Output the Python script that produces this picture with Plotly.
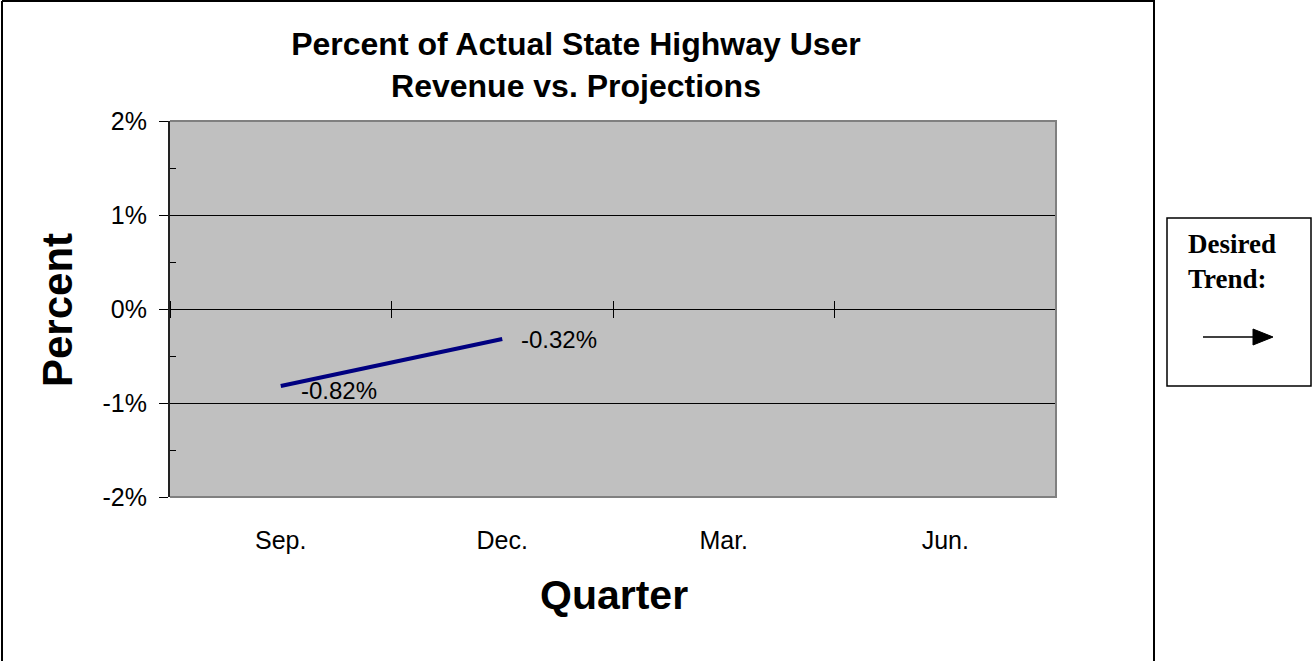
import plotly.graph_objects as go

# ---- data ----
quarters = ["Sep.", "Dec.", "Mar.", "Jun."]
actual_vs_projection_pct = [-0.82, -0.32, None, None]
y_tickvals = [-2, -1, 0, 1, 2]
y_ticktext = ["-2%", "-1%", "0%", "1%", "2%"]
title_text = "Percent of Actual State Highway User<br>Revenue vs. Projections"
x_title = "Quarter"
y_title = "Percent"
trend_text = "Desired<br>Trend:"

# ---- layout geometry (pixels) ----
W, H = 1312, 661
L, R, T, B = 170, 256, 121, 164
PW, PH = W - L - R, H - T - B


def px(x):
    return (x - L) / PW


def py(y):
    return (H - B - y) / PH


SANS = "Liberation Sans, Arial, sans-serif"
SERIF = "Liberation Serif, Times New Roman, serif"

fig = go.Figure()

fig.add_trace(go.Scatter(
    x=quarters, y=actual_vs_projection_pct, mode="lines",
    line=dict(color="#000080", width=4), showlegend=False, hoverinfo="skip",
))
# helper traces so that the overlay axes are drawn
fig.add_trace(go.Scatter(x=quarters, y=[None] * len(quarters), xaxis="x2", yaxis="y",
                         showlegend=False, hoverinfo="skip"))
fig.add_trace(go.Scatter(x=quarters, y=[None] * len(quarters), xaxis="x3", yaxis="y",
                         showlegend=False, hoverinfo="skip"))
fig.add_trace(go.Scatter(x=quarters, y=[None] * len(quarters), xaxis="x", yaxis="y2",
                         showlegend=False, hoverinfo="skip"))

# data labels
label_offsets = [(18, -4), (17, 0)]
for i, (q, v) in enumerate(zip(quarters, actual_vs_projection_pct)):
    if v is None:
        continue
    dx, dy = label_offsets[i]
    fig.add_annotation(x=q, y=v, xref="x", yref="y", text=f"{v:.2f}%",
                       showarrow=False, xanchor="left", yanchor="middle",
                       xshift=dx, yshift=dy,
                       font=dict(family=SANS, size=24, color="black"))

cat_axis = dict(type="category", categoryorder="array", categoryarray=quarters,
                range=[-0.5, len(quarters) - 0.5])

fig.update_layout(
    width=W, height=H,
    margin=dict(l=L, r=R, t=T, b=B, pad=0),
    paper_bgcolor="white", plot_bgcolor="#C0C0C0",
    showlegend=False,
    title=dict(text=title_text, x=576 / W, xanchor="center", xref="container",
               y=1 - 55 / H, yanchor="middle",
               font=dict(family=SANS, size=32, color="black", weight="bold")),
    xaxis=dict(**cat_axis, showgrid=False, zeroline=False, showline=False, ticks="",
               ticklabelstandoff=26,
               tickfont=dict(family=SANS, size=25, color="black")),
    xaxis2=dict(**cat_axis, overlaying="x", anchor="free", position=0.5, side="bottom",
                showgrid=False, zeroline=False, showline=False, showticklabels=False,
                ticks="outside", ticklen=8, tickcolor="black", tickwidth=1,
                tickson="boundaries"),
    xaxis3=dict(**cat_axis, overlaying="x", anchor="free", position=0.5, side="top",
                showgrid=False, zeroline=False, showline=False, showticklabels=False,
                ticks="outside", ticklen=8, tickcolor="black", tickwidth=1,
                tickson="boundaries"),
    yaxis=dict(range=[-2, 2], tickvals=y_tickvals, ticktext=y_ticktext,
               ticks="outside", ticklen=9, tickcolor="black", tickwidth=1,
               minor=dict(ticks="inside", ticklen=6, dtick=0.5, tickcolor="black",
                          tickwidth=1, showgrid=False),
               showgrid=True, gridcolor="black", gridwidth=1,
               zeroline=True, zerolinecolor="black", zerolinewidth=1,
               showline=True, linecolor="#222222", linewidth=2,
               ticklabelstandoff=7,
               tickfont=dict(family=SANS, size=25, color="black")),
    yaxis2=dict(range=[-2, 2], overlaying="y", anchor="x", side="left",
                tickvals=y_tickvals, showticklabels=False,
                ticks="inside", ticklen=7, tickcolor="black", tickwidth=1,
                showgrid=False, zeroline=False, showline=False),
)

# plot area frame (top, right, bottom)
fig.add_shape(type="path", xref="paper", yref="paper",
              path="M 0 1 L 1 1 L 1 0 L 0 0",
              line=dict(color="#808080", width=2), layer="above")

# outer chart border
fig.add_shape(type="line", xref="paper", yref="paper",
              x0=px(2), x1=px(2), y0=py(1), y1=py(700),
              line=dict(color="black", width=2))
fig.add_shape(type="path", xref="paper", yref="paper",
              path=f"M {px(2)} {py(1)} L {px(1154)} {py(1)} L {px(1154)} {py(700)}",
              line=dict(color="black", width=2))

# axis titles
fig.add_annotation(x=px(614), y=py(595), xref="paper", yref="paper", text=x_title,
                   showarrow=False, xanchor="center", yanchor="middle",
                   font=dict(family=SANS, size=41, color="black", weight="bold"))
fig.add_annotation(x=px(57), y=py(310), xref="paper", yref="paper", text=y_title,
                   textangle=-90, showarrow=False, xanchor="center", yanchor="middle",
                   font=dict(family=SANS, size=42, color="black", weight="bold"))

# desired trend box
fig.add_shape(type="rect", xref="paper", yref="paper",
              x0=px(1167), x1=px(1311), y0=py(386), y1=py(218),
              line=dict(color="black", width=1.5), fillcolor="white")
fig.add_annotation(x=px(1186), y=py(261), xref="paper", yref="paper", text=trend_text,
                   showarrow=False, xanchor="left", yanchor="middle", align="left",
                   font=dict(family=SERIF, size=27, color="black", weight="bold"))
fig.add_shape(type="line", xref="paper", yref="paper",
              x0=px(1203), x1=px(1256), y0=py(337), y1=py(337),
              line=dict(color="black", width=1.5))
fig.add_shape(type="path", xref="paper", yref="paper",
              path=f"M {px(1253)} {py(329)} L {px(1273)} {py(337)} L {px(1253)} {py(345)} Z",
              line=dict(color="black", width=1), fillcolor="black")

fig.write_html(
    "out.html",
    config={"displayModeBar": False},
    post_script="document.body.style.margin='0';document.body.style.overflow='hidden';",
)
